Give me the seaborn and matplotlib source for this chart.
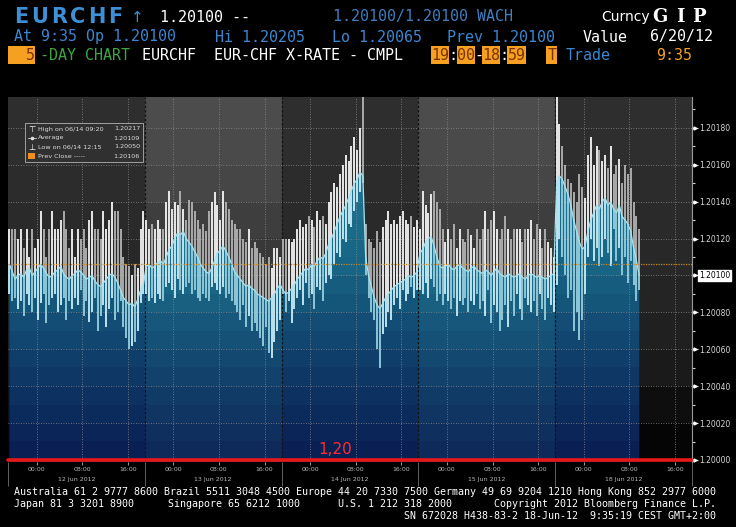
import numpy as np
import matplotlib
matplotlib.use("Agg")
import matplotlib.pyplot as plt
import matplotlib.transforms as mtransforms
from matplotlib.patches import Rectangle
from matplotlib.lines import Line2D
import seaborn as sns

# ---------------- data (values in 1e-5 above 1.20000) ----------------
day_labels = ["12 Jun 2012", "13 Jun 2012", "14 Jun 2012", "15 Jun 2012", "18 Jun 2012"]
time_labels = ["00:00", "08:00", "16:00"]
time_hours = [5, 13, 21]          # hours after the 19:00 session start
y_tick_units = [0, 20, 40, 60, 80, 100, 120, 140, 160, 180]

high_d1 = [125,125,125,120,125,115,125,110, 125,115,120,135,125,110,125,135,
           125,125,130,135,125,115,125,110, 125,120,125,115,130,135,125,125,
           120,135,125,130,140,135,135,125, 110,106,105,100,106,104,125,135]
low_d1 = [90,86,88,82,86,78,90,84, 80,88,76,85,90,74,84,88,
          90,80,84,88,76,86,82,88, 84,92,78,86,75,80,88,70,
          78,84,72,82,88,76,80,86, 72,66,60,62,64,70,85,90]
close_d1 = [106,102,98,100,101,99,103,104, 100,102,104,106,104,101,99,100,
            102,103,105,101,99,98,100,101, 103,102,100,98,99,100,97,95,
            94,96,98,100,101,99,96,92, 88,86,84,85,83,87,92,95]

high_d2 = [130,125,128,125,130,125,125,140, 146,136,140,138,146,136,130,141,
           140,135,130,125,128,124,135,140, 145,138,130,146,140,136,130,128,
           125,125,120,118,125,115,118,115, 112,110,106,110,104,115,115,110]
low_d2 = [90,86,88,85,90,87,86,94, 96,92,88,98,92,90,94,96,
          90,92,88,86,90,88,86,94, 96,92,90,94,88,90,86,84,
          80,76,84,72,78,70,74,70, 66,62,72,58,55,64,70,76]
close_d2 = [105,106,104,105,107,108,106,110, 114,116,120,123,122,124,120,118,
            116,113,110,106,104,102,101,104, 108,112,114,116,113,110,106,102,
            100,98,96,94,95,93,92,90, 89,88,87,86,88,90,93,95]

high_d3 = [120,120,120,118,120,125,130,126, 128,132,130,126,135,130,132,128,
           140,145,150,148,155,160,165,162, 170,175,168,180,217,128,120,118,
           115,124,118,126,130,135,128,130, 128,132,135,130,128,132,126,130]
low_d3 = [90,80,86,74,82,88,92,84, 96,88,90,82,94,92,86,96,
          100,98,106,112,110,120,118,128, 126,135,140,145,150,100,88,80,
          76,60,50,68,72,80,76,84, 88,82,92,86,90,94,88,92]
close_d3 = [92,90,91,93,95,98,100,102, 104,103,106,105,108,110,109,112,
            117,120,124,128,132,135,138,142, 146,150,152,156,154,110,100,94,
            88,84,82,85,88,90,92,94, 95,96,97,98,100,99,100,102]

high_d4 = [125,146,138,134,144,146,140,136, 125,118,125,120,128,115,125,120,
           118,125,122,115,125,120,125,135, 125,130,135,125,120,125,132,125,
           120,125,125,125,118,125,125,130, 120,128,125,115,125,118,115,110]
low_d4 = [92,90,96,88,98,94,86,90, 84,90,86,82,88,78,86,84,
          88,80,86,84,90,82,86,78, 92,74,84,80,70,76,84,72,
          86,78,90,82,76,88,84,80, 86,78,90,82,76,88,84,80]
close_d4 = [112,114,118,120,121,116,110,105, 104,105,106,104,103,105,106,104,
            103,102,104,105,103,102,101,103, 102,100,102,104,101,100,99,101,
            100,99,100,101,99,98,100,101, 100,99,100,99,98,99,100,101]

high_d5 = [205,182,170,160,152,150,145,140, 155,148,142,165,175,160,170,168,
           162,165,158,170,155,160,163,150, 160,155,158,140,132,125]
low_d5 = [95,120,110,100,88,92,70,80, 65,76,90,110,120,108,115,105,
          110,120,112,105,125,108,115,100, 110,96,108,95,86,92]
close_d5 = [150,154,152,148,144,138,130,124, 118,114,116,124,130,134,138,136,
            140,142,138,140,136,134,138,132, 130,128,124,115,108,100]

prev_close = 1.20106
last_price = 1.20100
base_level = 1.20000

# ---------------- build series ----------------
BASE, UNIT = 1.2, 1e-5
highs = [high_d1, high_d2, high_d3, high_d4, high_d5]
lows = [low_d1, low_d2, low_d3, low_d4, low_d5]
closes = [close_d1, close_d2, close_d3, close_d4, close_d5]
t, Hh, Ll, Cc = [], [], [], []
for d in range(5):
    for i in range(len(highs[d])):
        t.append(24 * d + 0.5 * i + 0.25)
        Hh.append(BASE + highs[d][i] * UNIT)
        Ll.append(BASE + lows[d][i] * UNIT)
        Cc.append(BASE + closes[d][i] * UNIT)
t, Hh, Ll, Cc = map(np.array, (t, Hh, Ll, Cc))

sns.set_theme(style="dark")
plt.rcParams['font.family'] = ['DejaVu Sans']
plt.rcParams['axes.unicode_minus'] = False

W, H = 736, 527
fig = plt.figure(figsize=(W / 100, H / 100), dpi=100, facecolor='black')
def fx(x): return x / W
def fy(y): return 1 - y / H

ax = fig.add_axes([fx(8), fy(462), (692 - 8) / W, (462 - 97) / H])
ax.set_facecolor('black')
YLO, YHI = 1.199989, 1.201967

# background stepped gradient
ny, nx = 400, 240
yv = np.linspace(YLO, YHI, ny)
vv = (yv - BASE) / UNIT
tcol = (np.arange(nx) + 0.5) * 0.5
light = ((tcol // 24) % 2 == 1)
band = np.clip(np.floor(vv / 20), 0, 9).astype(int)
dark_lv = np.array([5, 14, 26, 32, 36, 40, 42, 44, 46, 46])
light_lv = np.array([8, 20, 34, 42, 50, 56, 62, 70, 74, 76])
bg = np.where(light[None, :], light_lv[band][:, None], dark_lv[band][:, None]) / 255.0
bg_img = np.dstack([bg, bg, bg])
ax.imshow(bg_img, origin='lower', extent=[0, 120, YLO, YHI], aspect='auto',
          interpolation='nearest', zorder=0)

# area gradient
step = np.floor(vv / 10) * 10
sv = [0, 40, 100, 160, 200]
r = np.interp(step, sv, [10, 14, 24, 30, 34])
g = np.interp(step, sv, [32, 55, 100, 122, 130])
b = np.interp(step, sv, [85, 102, 132, 148, 152])
R = r[:, None] + np.where(light[None, :], 4, 0)
G = g[:, None] + np.where(light[None, :], 10, 0)
B = b[:, None] + np.where(light[None, :], 6, 0)
area_img = np.clip(np.dstack([R, G, B]) / 255.0, 0, 1)
poly = ax.fill_between(t, Cc, YLO, facecolor='none', edgecolor='none')
im2 = ax.imshow(area_img, origin='lower', extent=[0, 120, YLO, YHI], aspect='auto',
                interpolation='nearest', zorder=1)
im2.set_clip_path(poly.get_paths()[0], transform=ax.transData)

# grid
yt = BASE + np.array(y_tick_units) * UNIT
xt = [24 * d + h for d in range(5) for h in time_hours]
for y in yt[1:]:
    ax.axhline(y, color='#8c8c8c', lw=0.6, ls=(0, (1, 2)), zorder=2)
for x in xt:
    ax.axvline(x, color='#8c8c8c', lw=0.6, ls=(0, (1, 2)), zorder=2)
for d in range(1, 5):
    ax.axvline(24 * d, color='#121212', lw=0.9, ls=(0, (2, 1.5)), zorder=2)

# bars
up = np.r_[True, Cc[1:] >= Cc[:-1]]
top_lo = np.maximum(Ll, Cc)
bot_hi = np.minimum(Hh, Cc)
mt = Hh > top_lo
mb = Ll < bot_hi
BW = 1.3
ax.vlines(t[mt & up], top_lo[mt & up], Hh[mt & up], colors='#f6f6f6', lw=BW, zorder=3)
ax.vlines(t[mt & ~up], top_lo[mt & ~up], Hh[mt & ~up], colors='#b4b4b4', lw=BW, zorder=3)
ax.vlines(t[mb & up], Ll[mb & up], bot_hi[mb & up], colors='#c8eef8', lw=BW, zorder=3)
ax.vlines(t[mb & ~up], Ll[mb & ~up], bot_hi[mb & ~up], colors='#96d0e0', lw=BW, zorder=3)

# close line
sns.lineplot(x=t, y=Cc, ax=ax, color='#a6e3f0', lw=0.9, zorder=4)

ax.axhline(prev_close, color='#c8882a', lw=0.9, ls=(0, (1, 1)), zorder=5)
ax.axhline(base_level, color='#e81818', lw=2.6, zorder=6, clip_on=False)
ax.text(54.4, 1.200033, "1,20", color='#ff2d2d', fontsize=11, va='baseline', ha='left', zorder=7)

# axes styling
ax.set_xlim(0, 120)
ax.set_ylim(YLO, YHI)
ax.set_xlabel("")
ax.set_ylabel("")
ax.yaxis.tick_right()
ax.set_yticks(yt)
ax.set_yticklabels([f"{v:.5f}" for v in yt])
ax.set_yticks(BASE + np.arange(10, 200, 20) * UNIT, minor=True)
ax.tick_params(axis='y', which='major', colors='#d8d8d8', labelsize=5.5, length=4,
               width=0.8, pad=1.5, direction='out', right=True, left=False)
ax.tick_params(axis='y', which='minor', colors='#d0d0d0', length=2.5, width=0.8,
               right=True, left=False)
ax.set_xticks(xt)
ax.set_xticklabels(time_labels * 5)
ax.tick_params(axis='x', colors='#b8b8b8', labelsize=4.5, length=2, width=0.6, pad=1.5,
               bottom=True)
for s in ['left', 'top', 'bottom']:
    ax.spines[s].set_visible(False)
ax.spines['right'].set_color('#9a9a9a')
ax.spines['right'].set_linewidth(0.8)
ax.grid(False)

trans = mtransforms.blended_transform_factory(ax.transData, ax.transAxes)
for d, lab in enumerate(day_labels):
    ax.text(24 * d + 12, -0.047, lab, transform=trans, ha='center', va='center',
            fontsize=4.5, color='#b8b8b8')
ax.vlines([0, 24, 48, 72, 96, 120], -0.065, 0, transform=trans, colors='#707070',
          lw=0.6, clip_on=False)

transR = mtransforms.blended_transform_factory(ax.transAxes, ax.transData)
ax.plot([1.004] * len(yt), yt, ls='none', marker='>', ms=2.2, color='white',
        transform=transR, clip_on=False, zorder=8)
ax.annotate(f"{last_price:.5f}", xy=(1.0, last_price), xycoords=transR,
            xytext=(5, 0), textcoords='offset points', fontsize=5.5, color='black',
            va='center', ha='left', zorder=9, annotation_clip=False,
            bbox=dict(boxstyle='square,pad=0.15', fc='white', ec='white'))

# ---------------- legend box ----------------
fig.add_artist(Rectangle((fx(25), fy(162)), (143 - 25) / W, (162 - 123) / H,
                         transform=fig.transFigure, fc='#303030', ec='#a0a0a0',
                         lw=0.7, zorder=10))
leg_rows = [("High on 06/14 09:20", "1.20217"), ("Average", "1.20109"),
            ("Low on 06/14 12:15", "1.20050"), ("Prev Close -----", "1.20106")]
for k, (lab, val) in enumerate(leg_rows):
    yy = 129 + 9 * k
    fig.text(fx(38), fy(yy), lab, color='#dcdcdc', fontsize=4.6, va='center', ha='left', zorder=11)
    fig.text(fx(140), fy(yy), val, color='#dcdcdc', fontsize=4.6, va='center', ha='right', zorder=11)
fig.text(fx(32), fy(129), "⊤", color='white', fontsize=6, va='center', ha='center', zorder=11)
fig.add_artist(Line2D([fx(28), fx(36)], [fy(138), fy(138)], color='#dddddd', lw=0.6,
                      transform=fig.transFigure, zorder=11))
fig.add_artist(Line2D([fx(32)], [fy(138)], marker='o', ms=1.6, color='#dddddd',
                      transform=fig.transFigure, zorder=11))
fig.text(fx(32), fy(147), "⊥", color='white', fontsize=6, va='center', ha='center', zorder=11)
fig.add_artist(Rectangle((fx(28), fy(159)), 7 / W, 6 / H, transform=fig.transFigure,
                         fc='#f0901e', ec='none', zorder=11))

# ---------------- header ----------------
MONO = 'DejaVu Sans Mono'
BLUE = '#3b87d2'
ORANGE = '#f5a020'
def ftext(x, y, s, color, size=10.8, family=MONO, weight='normal', ha='left'):
    fig.text(fx(x), fy(y), s, color=color, fontsize=size, family=family,
             fontweight=weight, ha=ha, va='center')

for xc, ch in zip([21, 40, 59, 78, 97, 115], "EURCHF"):
    ftext(xc, 17, ch, '#3d8fd6', size=15, family='DejaVu Sans', weight='bold', ha='center')
ftext(137, 17, "↑", '#3d8fd6', size=11, family='DejaVu Sans', ha='center')
ftext(160, 17, "1.20100 --", 'white')
ftext(333, 17, "1.20100/1.20100 WACH", '#3f7fc0')
ftext(601, 17, "Curncy", 'white', size=10, family='DejaVu Sans')
for xc, ch in zip([660, 680, 699], "GIP"):
    ftext(xc, 17, ch, 'white', size=13, family='DejaVu Serif', weight='bold', ha='center')

ftext(14, 37, "At 9:35 Op 1.20100", BLUE)
ftext(215, 37, "Hi 1.20205", BLUE)
ftext(332, 37, "Lo 1.20065", BLUE)
ftext(447, 37, "Prev 1.20100", BLUE)
ftext(583, 37, "Value", 'white')
ftext(650, 37, "6/20/12", 'white')

def obox(x0, x1, s):
    fig.add_artist(Rectangle((fx(x0), fy(64)), (x1 - x0) / W, 18 / H,
                             transform=fig.transFigure, fc=ORANGE, ec='none', zorder=5))
    fig.text(fx((x0 + x1) / 2 if len(s) > 1 else x1 - 5), fy(55), s, color='#7a3300',
             fontsize=10.8, family=MONO, ha='center', va='center', zorder=6)

obox(8, 35, "5")
ftext(40, 55, "-DAY CHART", '#3da542')
ftext(142, 55, "EURCHF  EUR-CHF X-RATE - CMPL", 'white')
obox(431, 449, "19")
ftext(453, 55, ":", 'white', ha='center')
obox(457, 475, "00")
ftext(478.5, 55, "-", 'white', ha='center')
obox(482, 500, "18")
ftext(503.5, 55, ":", 'white', ha='center')
obox(507, 526, "59")
obox(546, 557, "T")
ftext(566, 55, "Trade", BLUE)
ftext(692, 55, "9:35", ORANGE, ha='right')

# ---------------- footer ----------------
FS = 7.2
ftext(14, 492, "Australia 61 2 9777 8600 Brazil 5511 3048 4500 Europe 44 20 7330 7500 "
      "Germany 49 69 9204 1210 Hong Kong 852 2977 6000", 'white', size=FS)
ftext(14, 504, "Japan 81 3 3201 8900", 'white', size=FS)
ftext(168, 504, "Singapore 65 6212 1000", 'white', size=FS)
ftext(338, 504, "U.S. 1 212 318 2000", 'white', size=FS)
ftext(716, 504, "Copyright 2012 Bloomberg Finance L.P.", 'white', size=FS, ha='right')
ftext(716, 516, "SN 672028 H438-83-2 18-Jun-12  9:35:19 CEST GMT+2:00", 'white', size=FS, ha='right')

fig.savefig("out.png", dpi=100, facecolor='black')
